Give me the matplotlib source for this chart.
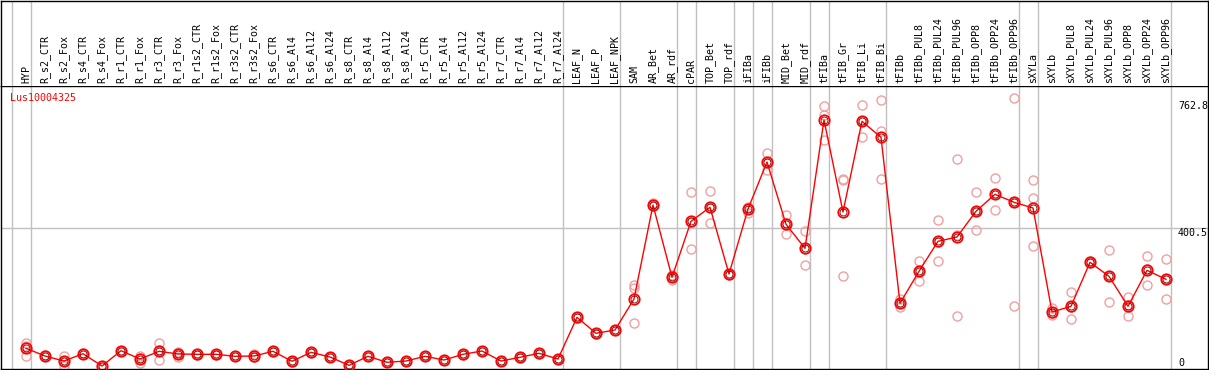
import numpy as np
import matplotlib
matplotlib.use("Agg")
import matplotlib.pyplot as plt

# categories (tissues / conditions)
samples = ["HYP",
           "R_s2_CTR", "R_s2_Fox", "R_s4_CTR", "R_s4_Fox", "R_r1_CTR", "R_r1_Fox",
           "R_r3_CTR", "R_r3_Fox", "R_r1s2_CTR", "R_r1s2_Fox", "R_r3s2_CTR", "R_r3s2_Fox",
           "R_s6_CTR", "R_s6_Al4", "R_s6_Al12", "R_s6_Al24", "R_s8_CTR", "R_s8_Al4",
           "R_s8_Al12", "R_s8_Al24", "R_r5_CTR", "R_r5_Al4", "R_r5_Al12", "R_r5_Al24",
           "R_r7_CTR", "R_r7_Al4", "R_r7_Al12", "R_r7_Al24",
           "LEAF_N", "LEAF_P", "LEAF_NPK", "SAM", "AR_Bet", "AR_rdf", "cPAR",
           "TOP_Bet", "TOP_rdf", "iFIBa", "iFIBb", "MID_Bet", "MID_rdf",
           "tFIBa", "tFIB_Gr", "tFIB_Li", "tFIB_Bi", "tFIBb",
           "tFIBb_PUL8", "tFIBb_PUL24", "tFIBb_PUL96", "tFIBb_OPP8", "tFIBb_OPP24", "tFIBb_OPP96",
           "sXYLa", "sXYLb",
           "sXYLb_PUL8", "sXYLb_PUL24", "sXYLb_PUL96", "sXYLb_OPP8", "sXYLb_OPP24", "sXYLb_OPP96"]

# mean expression
means = [56.4, 34.3, 20.0, 40.9, 5.7, 49.5, 25.7, 47.8, 40.1, 39.2, 39.2, 33.5, 34.3,
         47.8, 19.2, 44.9, 31.5, 7.7, 33.5, 16.3, 20.0, 33.5, 22.9, 39.2, 48.6,
         20.0, 30.6, 42.1, 25.7,
         145.1, 99.3, 108.7, 197.4, 466.3, 259.5, 419.7,
         459.8, 268.9, 454.9, 589.4, 411.1, 342.5,
         709.5, 446.3, 705.8, 660.0, 185.1,
         276.7, 362.5, 374.8, 448.3, 497.0, 474.1,
         457.8, 160.2,
         176.5, 302.4, 262.4, 176.5, 279.5, 253.8]

# replicate values
reps = [(70.1, 62.9, 34.3), (33, 34, 36), (34.3, 20, 5.7), (40, 41, 42), (5, 6, 6),
        (48, 50, 50), (34.3, 15.2, 27.6), (70.7, 22.0, 50.7), (46.6, 32.3, 41.4),
        (38, 39, 40), (38, 39, 40), (33, 33.5, 34), (40.1, 30.6, 32.3),
        (47, 48, 49), (18, 19, 20), (44, 45, 46), (31, 31.5, 32), (7, 8, 8),
        (33, 33.5, 34), (16, 16, 17), (19, 20, 21), (33, 33.5, 34), (22, 23, 24),
        (38, 39, 40), (48, 48.6, 49), (19, 20, 21), (30, 31, 31), (41, 42, 43),
        (25, 26, 26),
        (144, 145, 146), (98, 99, 100), (108, 109, 109), (228.0, 127.9, 236.3),
        (471.2, 464, 463), (266.1, 251.8, 260.6), (502.7, 339.6, 416.8),
        (506.4, 414.0, 459.0), (267, 269, 270), (461.5, 444.3, 459.0),
        (616.0, 566.5, 585.7), (436.9, 382.5, 413.9), (392.8, 293.8, 340.9),
        (749.6, 723.8, 652.3), (539.9, 537.0, 263.2), (751.6, 660.0, 705.8),
        (766.7, 677.2, 539.9), (196.6, 173.7, 185.1),
        (305.3, 248.0, 276.7), (422.6, 305.3, 359.6), (597.1, 147.9, 379.4),
        (502.7, 394.0, 448.3), (542.7, 451.2, 497.0), (771.6, 176.5, 474.2),
        (537.0, 485.5, 348.2), (170.8, 151.6, 158.0),
        (216.6, 139.3, 173.6), (299, 303, 305), (336.7, 188.0, 262.5),
        (202.3, 147.9, 179.3), (319.6, 236.6, 282.3), (311.0, 196.6, 253.8)]

# group borders (after these indices)
borders = [-1, 0, 28, 31, 34, 35, 37, 38, 39, 41, 42, 45, 52, 53, 60]

yticks = [0, 400.5, 762.8]
gene = "Lus10004325"

W, H = 1209, 370
fig = plt.figure(figsize=(W / 100, H / 100), dpi=100)

def px_axes(x0, y0, x1, y1):
    return fig.add_axes([x0 / W, 1 - y1 / H, (x1 - x0) / W, (y1 - y0) / H])

xlim = ((1 - 26) / 19, (1208 - 26) / 19)
ax = px_axes(1, 85.5, 1208, 369)
hd = px_axes(1, 0.5, 1208, 85.5)

ax.set_xlim(*xlim)
ax.set_ylim((368 - 369) * 2.861, (368 - 85.5) * 2.861)
hd.set_xlim(*xlim)
hd.set_ylim(0, 1)

for a in (ax, hd):
    a.set_xticks([])
    a.set_yticks([])
    for s in a.spines.values():
        s.set_color("black")
        s.set_linewidth(1.0)
hd.spines["bottom"].set_visible(False)

x = np.arange(len(samples))
for b in borders:
    for a in (ax, hd):
        a.axvline(b + 0.25, color="#c0c0c0", lw=1, zorder=0)
ax.axhline(400.5, color="#c0c0c0", lw=1, zorder=0)

mono = "DejaVu Sans Mono"
for i, name in enumerate(samples):
    hd.text(i, 0.03, name, rotation=90, ha="center", va="bottom",
            fontsize=7.2, family=mono)

# replicates
for i, r in enumerate(reps):
    ax.plot([i] * len(r), r, "o", ms=6.5, mfc="none", mec="#f0a0a0", mew=1.0, zorder=2)

ax.plot(x, means, "-", color="red", lw=1, zorder=3)
ax.plot(x, means, "o", ms=7.5, mfc="none", mec="red", mew=1.3, zorder=4)
ax.plot(x, means, "o", ms=5, mfc="none", mec="#700000", mew=0.6, zorder=5)

tx = (1178 - 26) / 19
ax.text(tx, yticks[2], f"{yticks[2]}", ha="left", va="top", fontsize=7.2, family=mono)
ax.text(tx, yticks[1], f"{yticks[1]}", ha="left", va="top", fontsize=7.2, family=mono)
ax.text(tx, yticks[0], f"{yticks[0]}", ha="left", va="bottom", fontsize=7.2, family=mono)

ax.text((10 - 26) / 19, (368 - 93) * 2.861, gene, ha="left", va="top",
        color="red", fontsize=7.2, family=mono)

fig.savefig("out.png", dpi=100)
